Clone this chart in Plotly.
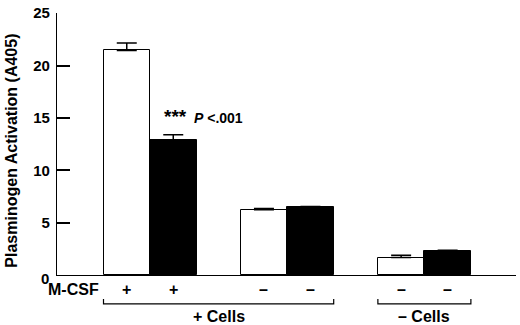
import plotly.graph_objects as go

# data
conditions = ["+M-CSF +Cells", "+M-CSF +Cells (treated)", "−M-CSF +Cells", "−M-CSF +Cells (treated)",
              "−M-CSF −Cells", "−M-CSF −Cells (treated)"]
values = [21.45, 12.87, 6.22, 6.5, 1.67, 2.32]
errors = [0.7, 0.53, 0.12, 0.05, 0.21, 0.05]
fills = ["white", "black", "white", "black", "white", "black"]
mcsf_signs = ["+", "+", "–", "–", "–", "–"]
group_labels = ["+ Cells", "– Cells"]
y_ticks = [0, 5, 10, 15, 20, 25]
y_ticktext = ["", "5", "10", "15", "20", "25"]

FONT = "Liberation Sans, Arial, sans-serif"

# layout positions (bar width = 1 unit)
pair_start = 1.0
pair_step = 2.95
xs = [pair_start + 0.5 + pair_step * (i // 2) + (i % 2) for i in range(len(values))]

fig = go.Figure()
fig.add_trace(go.Bar(
    x=xs, y=values, width=1.0,
    marker=dict(color=fills, line=dict(color="black", width=1)),
    error_y=dict(type="data", symmetric=False, array=errors, arrayminus=[0] * len(errors),
                 color="black", thickness=1.5, width=10),
    showlegend=False, hoverinfo="skip",
))

SIGN_Y = -0.0546
annotations = []
# "0" label placed like the original (slightly low/right)
annotations.append(dict(x=0, y=0, xref="paper", yref="paper", text="<b>0</b>", showarrow=False,
                        xanchor="right", yanchor="middle", xshift=-6, yshift=-3,
                        font=dict(family=FONT, size=15, color="black")))
# M-CSF row
annotations.append(dict(x=0, y=SIGN_Y, xref="paper", yref="paper", text="<b>M-CSF</b>", showarrow=False,
                        xanchor="left", yanchor="middle", xshift=-11,
                        font=dict(family=FONT, size=16, color="black")))
for x, s in zip(xs, mcsf_signs):
    annotations.append(dict(x=x, y=SIGN_Y, xref="x", yref="paper", text="<b>%s</b>" % s, showarrow=False,
                            yanchor="middle", font=dict(family=FONT, size=16, color="black")))

# brackets
shapes = []
brackets = [(xs[0] - 0.5, xs[3] + 0.5), (xs[4] - 0.5, xs[5] + 0.5)]
for (a, b), lab in zip(brackets, group_labels):
    shapes.append(dict(type="path", xref="x", yref="paper",
                       path="M %f,-0.0917 L %f,-0.110 L %f,-0.110 L %f,-0.0917" % (a, a, b, b),
                       line=dict(color="black", width=1.2)))
    annotations.append(dict(x=(a + b) / 2, y=-0.158, xref="x", yref="paper", text="<b>%s</b>" % lab,
                            showarrow=False, yanchor="middle",
                            font=dict(family=FONT, size=16, color="black")))

# significance label
annotations.append(dict(x=2.26, y=15.16, xref="x", yref="y",
                        text="<b><span style='font-size:19px'>***</span>&nbsp;&nbsp;<i>P</i> <.001</b>",
                        showarrow=False, xanchor="left", yanchor="middle",
                        font=dict(family=FONT, size=14, color="black")))

# y-axis title
annotations.append(dict(x=-0.1, y=0.475, xref="paper", yref="paper",
                        text="<b>Plasminogen Activation (A405)</b>", showarrow=False, textangle=-90,
                        xanchor="center", yanchor="middle",
                        font=dict(family=FONT, size=16, color="black")))

fig.update_layout(
    width=520, height=325,
    margin=dict(l=57, r=4, t=6, b=50),
    paper_bgcolor="white", plot_bgcolor="white",
    bargap=0,
    xaxis=dict(range=[0, 9.87], showgrid=False, zeroline=False, showticklabels=False, ticks="",
               showline=True, linecolor="black", linewidth=1.3),
    yaxis=dict(range=[0, 25.02], tickvals=y_ticks, ticktext=y_ticktext, showgrid=False, zeroline=False,
               ticks="inside", ticklen=13, tickwidth=1.6, tickcolor="black",
               showline=True, linecolor="black", linewidth=1.3, ticklabeloverflow="allow",
               tickfont=dict(family=FONT, size=15, color="black", weight="bold"), ticklabelstandoff=3),
    shapes=shapes,
    annotations=annotations,
)

fig.write_html("out.html", config={"displayModeBar": False},
               post_script="document.body.style.margin='0';")
